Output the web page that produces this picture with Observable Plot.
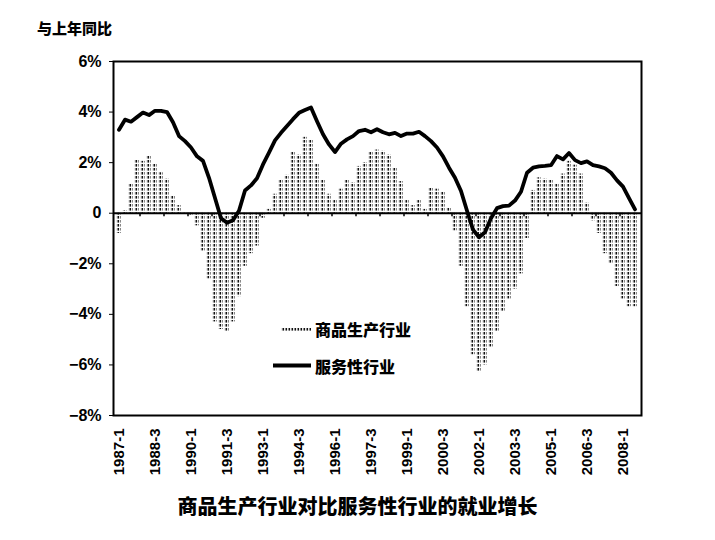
<!DOCTYPE html>
<html>
<head>
<meta charset="utf-8">
<script src="https://cdn.jsdelivr.net/npm/d3@7"></script>
<script src="https://cdn.jsdelivr.net/npm/@observablehq/plot@0.6"></script>
<style>
  body { margin: 0; background: white; }
  #wrap { position: relative; width: 715px; height: 540px; font-family: "Liberation Sans", "Noto Sans CJK SC", sans-serif; }
  .t { position: absolute; font-weight: 900; font-family: "Noto Sans CJK SC", sans-serif; color: #000; white-space: nowrap; }
</style>
</head>
<body>
<div id="wrap"></div>
<script>
const startYear = 1987;
// 商品生产行业 (goods-producing), quarterly, % y/y
const goods = [
  -0.8, 0.1, 1.15, 2.1, 2.05, 2.25, 1.95, 1.6, 1.35, 0.7,
  0.3, -0.05, -0.1, -0.5, -1.5, -2.6, -4.3, -4.6, -4.7, -4.3,
  -3.3, -2.1, -1.6, -1.3, -0.2, 0.15, 0.75, 1.3, 1.5, 2.4,
  2.3, 3.0, 2.9, 1.95, 1.3, 0.75, 0.5, 0.95, 1.3, 1.2,
  1.85, 2.0, 2.4, 2.5, 2.45, 2.3, 1.8, 1.25, 0.5, 0.3,
  0.5, 0.15, 1.0, 0.95, 0.85, 0.2, -0.7, -2.1, -3.7, -5.6,
  -6.3, -6.0, -5.3, -4.7, -3.9, -3.4, -3.0, -2.4, -1.0, 0.9,
  1.4, 1.35, 1.3, 1.15, 1.55, 2.05, 1.9, 1.55, 0.4, -0.3,
  -0.8, -1.6, -2.0, -2.9, -3.4, -3.7, -3.7
];
// 服务性行业 (services), quarterly, % y/y
const services = [
  3.3, 3.7, 3.62, 3.8, 3.98, 3.88, 4.05, 4.05, 4.0, 3.6,
  3.05, 2.85, 2.6, 2.25, 2.07, 1.4, 0.6, -0.2, -0.38, -0.28,
  0.1, 0.9, 1.1, 1.38, 1.93, 2.4, 2.88, 3.18, 3.45, 3.72,
  3.97, 4.08, 4.18, 3.64, 3.12, 2.72, 2.42, 2.75, 2.92, 3.05,
  3.25, 3.3, 3.2, 3.32, 3.2, 3.12, 3.18, 3.05, 3.15, 3.15,
  3.22, 3.05, 2.85, 2.6, 2.25, 1.8, 1.4, 0.88, 0.1, -0.65,
  -0.95, -0.75, -0.2, 0.2, 0.28, 0.3, 0.5, 0.85, 1.6, 1.8,
  1.85, 1.87, 1.9, 2.26, 2.13, 2.38, 2.1, 1.98, 2.05, 1.9,
  1.85, 1.78, 1.6, 1.3, 1.05, 0.6, 0.15
];
const quarters = goods.map((_, i) => `${startYear + Math.floor(i / 4)}-${(i % 4) + 1}`);
const tickLabels = ["1987-1","1988-3","1990-1","1991-3","1993-1","1994-3","1996-1","1997-3",
                    "1999-1","2000-3","2002-1","2003-3","2005-1","2006-3","2008-1"];
const yTicks = [-8, -6, -4, -2, 0, 2, 4, 6];
const minorTicks = quarters.filter((_, i) => i > 0 && i % 4 === 0);

const rows = quarters.map((q, i) => ({q, goods: goods[i], services: services[i]}));

const fmt = d => d === 0 ? "0" : (d < 0 ? "\u2212" + Math.abs(d) : d) + "%";

const chart = Plot.plot({
  width: 715,
  height: 540,
  marginLeft: 113,
  marginRight: 74,
  marginTop: 61,
  marginBottom: 125,
  x: {type: "band", domain: quarters, padding: 0.1},
  y: {domain: [-8, 6]},
  style: {fontFamily: "'Liberation Sans', 'Noto Sans CJK SC', sans-serif", background: "white", color: "black"},
  marks: [
    Plot.barY(rows, {x: "q", y: "goods", fill: "url(#dots)"}),
    Plot.ruleY([0], {stroke: "black", strokeWidth: 2}),
    Plot.ruleX(minorTicks, {x: d => d, y1: 0, y2: -0.14, dx: -3, stroke: "black", strokeWidth: 1.5}),
    Plot.lineY(rows, {x: "q", y: "services", stroke: "black", strokeWidth: 3.8, strokeLinejoin: "round"}),
    Plot.frame({stroke: "black", strokeWidth: 2}),
    Plot.axisY({ticks: yTicks, tickFormat: fmt, tickSize: 4, tickPadding: 8, fontSize: 16, fontWeight: "bold", label: null}),
    Plot.axisX({ticks: tickLabels, tickRotate: -90, tickSize: 0, tickPadding: 13, fontSize: 15, fontWeight: "bold", label: null})
  ]
});

// dotted hatch pattern for the goods bars
const ns = "http://www.w3.org/2000/svg";
const defs = document.createElementNS(ns, "defs");
const pat = document.createElementNS(ns, "pattern");
pat.setAttribute("id", "dots");
pat.setAttribute("patternUnits", "userSpaceOnUse");
pat.setAttribute("width", "3");
pat.setAttribute("height", "4");
const r = document.createElementNS(ns, "rect");
r.setAttribute("x", "0.5"); r.setAttribute("y", "0");
r.setAttribute("width", "1.6"); r.setAttribute("height", "2.6");
r.setAttribute("fill", "#111");
pat.appendChild(r);
defs.appendChild(pat);
chart.insertBefore(defs, chart.firstChild);

const wrap = document.getElementById("wrap");
wrap.appendChild(chart);

function addText(txt, left, top, size, extra) {
  const d = document.createElement("div");
  d.className = "t";
  d.textContent = txt;
  d.style.left = left + "px";
  d.style.top = top + "px";
  d.style.fontSize = size + "px";
  if (extra) Object.assign(d.style, extra);
  wrap.appendChild(d);
  return d;
}
addText("与上年同比", 37, 17, 15);
addText("商品生产行业对比服务性行业的就业增长", 0, 491, 20, {width: "715px", textAlign: "center", left: "0px"});

// legend
const lg = document.createElement("div");
lg.style.position = "absolute"; lg.style.left = "0px"; lg.style.top = "0px";
lg.innerHTML = `
<svg width="715" height="540" style="position:absolute;left:0;top:0;pointer-events:none">
  <rect x="281" y="327" width="30" height="5" fill="url(#dots)"></rect>
  <line x1="273" y1="365.5" x2="311" y2="365.5" stroke="black" stroke-width="3.8"></line>
</svg>`;
wrap.appendChild(lg);
addText("商品生产行业", 315, 317, 16);
addText("服务性行业", 315, 354, 16);
</script>
</body>
</html>
